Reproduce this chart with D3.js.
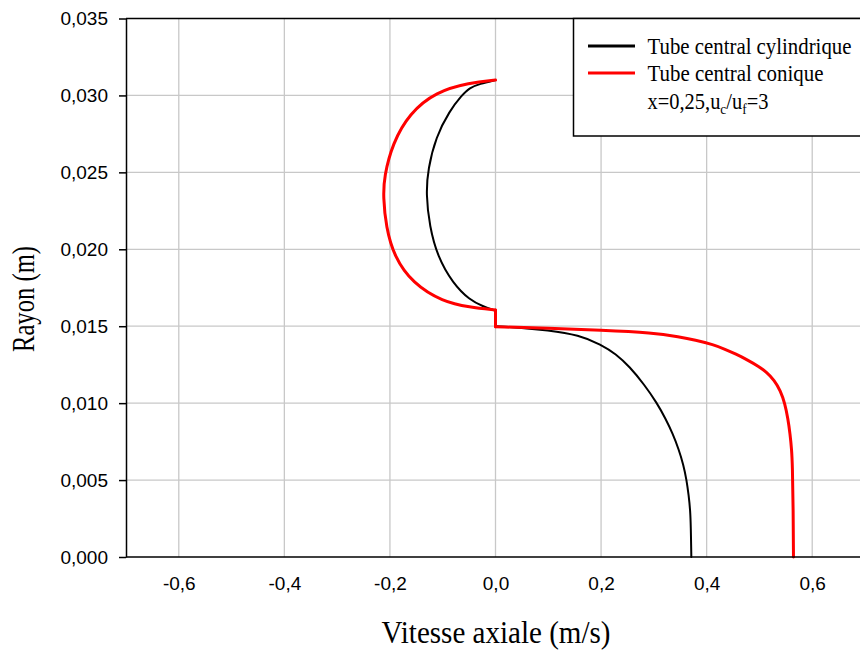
<!DOCTYPE html>
<html><head><meta charset="utf-8">
<script src="https://cdn.jsdelivr.net/npm/d3@7"></script>
<style>body{margin:0;background:#fff}svg{display:block}</style>
</head><body>
<svg id="c" width="860" height="651"></svg>
<script>
// ---- data ----
const xTicks = [-0.6, -0.4, -0.2, 0.0, 0.2, 0.4, 0.6];
const yTicks = [0, 0.005, 0.010, 0.015, 0.020, 0.025, 0.030, 0.035];
const seriesNames = ["Tube central cylindrique", "Tube central conique"];
const seriesColors = ["#000000", "#ff0000"];
// Cylindrique : rayon (m) et vitesse axiale (m/s)
const cylR = [0, 0.002, 0.003, 0.004, 0.005, 0.006, 0.007, 0.008, 0.009, 0.010, 0.0112, 0.01237, 0.0132, 0.0138, 0.01443, 0.01475, 0.0149, 0.0150,
              0.0160, 0.0163, 0.0167, 0.0178, 0.0195, 0.0215, 0.0236, 0.0252, 0.0273, 0.0290, 0.0300, 0.0305, 0.03075, 0.0310];
const cylV = [0.371, 0.370, 0.369, 0.366, 0.362, 0.356, 0.347, 0.336, 0.322, 0.306, 0.282, 0.254, 0.228, 0.200, 0.159, 0.096, 0.050, 0.0,
              0.0, -0.024, -0.049, -0.081, -0.1095, -0.125, -0.1316, -0.128, -0.113, -0.087, -0.064, -0.049, -0.030, 0.0];
// Conique
const conR = [0, 0.003, 0.006, 0.007, 0.008, 0.009, 0.010, 0.0108, 0.0115, 0.0120, 0.0124, 0.0128, 0.0132, 0.0135, 0.0138, 0.0141, 0.0143, 0.01458, 0.01475, 0.01486, 0.01497,
              0.01605, 0.01623, 0.01659, 0.01779, 0.01952, 0.02147, 0.02342, 0.02472, 0.02689, 0.02884, 0.03024, 0.03083, 0.0310];
const conV = [0.5645, 0.564, 0.5625, 0.561, 0.558, 0.554, 0.548, 0.540, 0.528, 0.514, 0.498, 0.478, 0.455, 0.435, 0.413, 0.378, 0.349, 0.298, 0.200, 0.100, 0.0,
              0.0, -0.049, -0.100, -0.157, -0.192, -0.2075, -0.2127, -0.211, -0.195, -0.163, -0.113, -0.049, 0.0];

// ---- drawing ----
const svg = d3.select("#c");
svg.append("rect").attr("width", 860).attr("height", 651).attr("fill", "#fff");
const x = d3.scaleLinear().domain([-0.7, 0.7]).range([126, 865]);
const y = d3.scaleLinear().domain([0, 0.035]).range([557, 18.5]);
const loc = d3.formatLocale({decimal: ",", thousands: " ", grouping: [3], currency: ["", ""], minus: "-"});
const fx = loc.format(".1f"), fy = loc.format(".3f");

// grid
const grid = svg.append("g").attr("stroke", "#c8c8c8").attr("stroke-width", 1.3);
xTicks.forEach(t => grid.append("line").attr("x1", x(t)).attr("x2", x(t)).attr("y1", y(0)).attr("y2", y(0.035)));
yTicks.filter(t => t > 0 && t < 0.035).forEach(t => grid.append("line").attr("x1", x(-0.7)).attr("x2", 860).attr("y1", y(t)).attr("y2", y(t)));

// curves: smooth lower & upper branches, straight step at the tube wall
const smooth = d3.line().curve(d3.curveBasis);
const straight = d3.line();
function draw(R, V, color, w) {
  const pts = R.map((r, i) => [x(V[i]), y(r)]);
  let k = 0;
  for (let i = 0; i < V.length - 1; i++) if (V[i] === 0 && V[i + 1] === 0) { k = i; break; }
  const parts = [[smooth, pts.slice(0, k + 1)], [straight, pts.slice(k, k + 2)], [smooth, pts.slice(k + 1)]];
  parts.forEach(([gen, p]) => svg.append("path").datum(p).attr("d", gen).attr("fill", "none")
    .attr("stroke", color).attr("stroke-width", w).attr("stroke-linejoin", "round").attr("stroke-linecap", "round"));
}
draw(cylR, cylV, seriesColors[0], 2);
draw(conR, conV, seriesColors[1], 3);

// axes
const yAxis = svg.append("g").attr("transform", `translate(${x(-0.7)},0)`)
  .call(d3.axisLeft(y).tickValues(yTicks).tickFormat(fy).tickSize(7).tickSizeOuter(0).tickPadding(11));
yAxis.select(".domain").attr("stroke-width", 1.5);
yAxis.selectAll(".tick line").attr("stroke-width", 1.5);
yAxis.selectAll("text").attr("font-family", "Liberation Sans, Arial, sans-serif").attr("font-size", 19).attr("fill", "#000");

const xAxis = svg.append("g").attr("transform", `translate(0,${y(0)})`)
  .call(d3.axisBottom(x).tickValues(xTicks).tickFormat(fx).tickSize(0).tickPadding(20));
xAxis.select(".domain").remove();
xAxis.selectAll("text").attr("font-family", "Liberation Sans, Arial, sans-serif").attr("font-size", 19).attr("fill", "#000");
svg.append("line").attr("x1", x(-0.7)).attr("x2", 860).attr("y1", y(0)).attr("y2", y(0)).attr("stroke", "#000").attr("stroke-width", 1.5);
svg.append("line").attr("x1", x(-0.7)).attr("x2", 860).attr("y1", y(0.035)).attr("y2", y(0.035)).attr("stroke", "#000").attr("stroke-width", 1.5);

const serif = "Liberation Serif, Times New Roman, serif";

// axis titles (the serif text in the reference is horizontally condensed)
const xt = svg.append("text").attr("text-anchor", "middle")
  .attr("font-family", serif).attr("font-size", 31).text("Vitesse axiale (m/s)");
let s = 229 / xt.node().getComputedTextLength();
xt.attr("transform", `translate(496,643) scale(${s},1)`);

const yt = svg.append("text").attr("text-anchor", "middle")
  .attr("font-family", serif).attr("font-size", 31).text("Rayon (m)");
s = 106 / yt.node().getComputedTextLength();
yt.attr("transform", `translate(34,299) rotate(-90) scale(${s},1)`);

// legend
const lg = svg.append("g");
lg.append("rect").attr("x", 573.5).attr("y", y(0.035)).attr("width", 320).attr("height", 136 - y(0.035))
  .attr("fill", "#fff").attr("stroke", "#000").attr("stroke-width", 1.5);
const rows = [46, 73];
const widths = [204, 176];
seriesNames.forEach((nm, i) => {
  lg.append("line").attr("x1", 588).attr("x2", 635).attr("y1", rows[i]).attr("y2", rows[i])
    .attr("stroke", seriesColors[i]).attr("stroke-width", 3);
  const t = lg.append("text").attr("font-family", serif).attr("font-size", 23).text(nm);
  const k = widths[i] / t.node().getComputedTextLength();
  t.attr("transform", `translate(647.5,${rows[i] + 8}) scale(${k},1)`);
});
const t3 = lg.append("text").attr("font-family", serif).attr("font-size", 23);
t3.append("tspan").text("x=0,25,u");
t3.append("tspan").attr("font-size", 15).attr("dy", 5).text("c");
t3.append("tspan").attr("dy", -5).text("/u");
t3.append("tspan").attr("font-size", 15).attr("dy", 5).text("f");
t3.append("tspan").attr("dy", -5).text("=3");
const k3 = 121 / t3.node().getBBox().width;
t3.attr("transform", `translate(647.5,109) scale(${k3},1)`);
</script>
</body></html>
